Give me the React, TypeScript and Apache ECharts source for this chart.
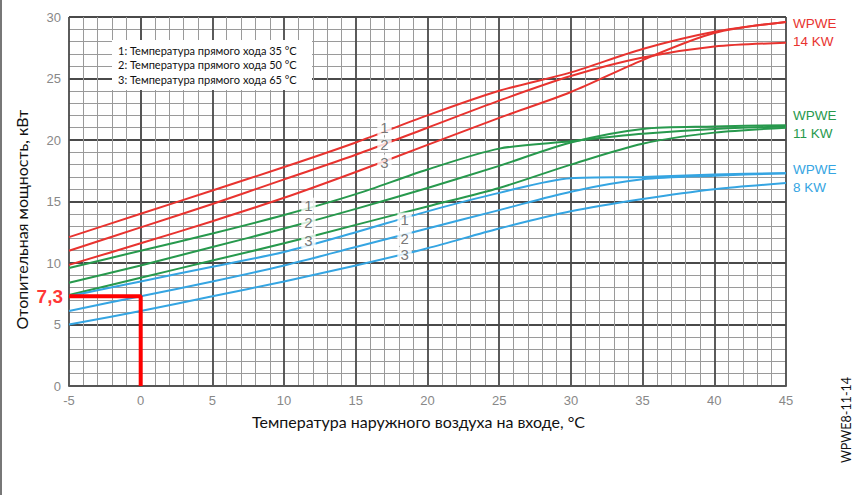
import React, { useEffect, useRef } from "react";
import * as echarts from "echarts";

const temps = [-5, 0, 5, 10, 15, 20, 25, 30, 35, 40, 45];
const red1 = [12.1, 14.0, 15.9, 17.8, 19.8, 22.0, 24.0, 25.5, 27.4, 28.8, 29.6];
const red2 = [11.0, 12.9, 14.8, 16.8, 18.8, 21.0, 23.2, 25.2, 26.7, 27.6, 27.9];
const red3 = [9.85, 11.6, 13.4, 15.3, 17.4, 19.6, 21.8, 23.9, 26.5, 28.7, 29.6];
const green1 = [9.6, 11.0, 12.4, 13.9, 15.6, 17.6, 19.3, 19.9, 20.5, 20.9, 21.1];
const green2 = [8.4, 9.8, 11.3, 12.8, 14.4, 16.1, 17.9, 19.8, 20.9, 21.1, 21.2];
const green3 = [7.4, 8.8, 10.2, 11.6, 13.1, 14.6, 16.1, 18.0, 19.7, 20.6, 21.0];
const blue1 = [7.3, 8.5, 9.7, 10.9, 12.5, 14.2, 15.7, 16.9, 17.0, 17.2, 17.3];
const blue2 = [6.1, 7.3, 8.5, 9.8, 11.3, 12.8, 14.3, 15.8, 16.8, 17.1, 17.3];
const blue3 = [5.0, 6.1, 7.3, 8.5, 9.8, 11.2, 12.8, 14.2, 15.2, 16.0, 16.5];

const markerX = [-5, 0, 0];
const markerY = [7.3, 7.3, 0];
const markerText = "7,3";

const curveLabels = ["1", "2", "3"];
const redLabelX = 17.0;
const redLabelY = [21.0, 19.6, 18.2];
const greenLabelX = 11.7;
const greenLabelY = [14.7, 13.3, 11.8];
const blueLabelX = 18.4;
const blueLabelY = [13.5, 12.0, 10.7];

const legendLines = [
  "1: Температура прямого хода 35 °C",
  "2: Температура прямого хода 50 °C",
  "3: Температура прямого хода 65 °C",
];
const modelNames = ["WPWE\n14 KW", "WPWE\n11 KW", "WPWE\n8 KW"];

const RED = "#e8332f";
const GREEN = "#27994d";
const BLUE = "#35a5e2";

function pairs(ys: number[]) {
  return temps.map((t, i) => [t, ys[i]]);
}

export default function App() {
  const ref = useRef<HTMLDivElement>(null);
  useEffect(() => {
    if (!ref.current) return;
    const chart = echarts.init(ref.current, undefined, { renderer: "svg" });
    const curve = (name: string, ys: number[], color: string) => ({
      name,
      type: "line",
      data: pairs(ys),
      smooth: 0.3,
      symbol: "none",
      lineStyle: { color, width: 2 },
      z: 3,
    });
    const labelSeries = (x: number, ys: number[]) => ({
      type: "scatter",
      symbolSize: 0,
      data: ys.map((y, i) => ({ value: [x, y], label: { formatter: curveLabels[i] } })),
      label: {
        show: true,
        position: "inside",
        color: "#555",
        fontSize: 15,
        fontFamily: "Liberation Sans",
        backgroundColor: "#fff",
        padding: [0, 3],
      },
      z: 5,
    });
    chart.setOption({
      animation: false,
      backgroundColor: "#fff",
      grid: { left: 69, top: 17, right: 73, bottom: 109 },
      xAxis: {
        type: "value",
        min: -5,
        max: 45,
        interval: 5,
        name: "Температура наружного воздуха на входе, °C",
        nameLocation: "middle",
        nameGap: 27,
        nameTextStyle: { color: "#111", fontSize: 16, fontFamily: "Lato", padding: [0, 18, 0, 0] },
        axisLine: { show: true, lineStyle: { color: "#555", width: 2 } },
        axisTick: { show: false },
        axisLabel: { color: "#888", fontSize: 13, fontFamily: "Liberation Sans", margin: 8 },
        splitLine: { show: true, lineStyle: { color: "#4a4a4a", width: 1.8 } },
        minorTick: { show: false, splitNumber: 5 },
        minorSplitLine: { show: true, lineStyle: { color: "#9a9a9a", width: 1 } },
      },
      yAxis: {
        type: "value",
        min: 0,
        max: 30,
        interval: 5,
        name: "Отопительная мощность, кВт",
        nameLocation: "middle",
        nameGap: 40,
        nameTextStyle: { color: "#111", fontSize: 16, fontFamily: "Lato", padding: [0, 36, 0, 0] },
        axisLine: { show: true, lineStyle: { color: "#555", width: 2 } },
        axisTick: { show: false },
        axisLabel: { color: "#888", fontSize: 13, fontFamily: "Liberation Sans", margin: 8 },
        splitLine: { show: true, lineStyle: { color: "#4a4a4a", width: 1.8 } },
        minorTick: { show: false, splitNumber: 5 },
        minorSplitLine: { show: true, lineStyle: { color: "#9a9a9a", width: 1 } },
      },
      series: [
        curve("red1", red1, RED),
        curve("red2", red2, RED),
        curve("red3", red3, RED),
        curve("green1", green1, GREEN),
        curve("green2", green2, GREEN),
        curve("green3", green3, GREEN),
        curve("blue1", blue1, BLUE),
        curve("blue2", blue2, BLUE),
        curve("blue3", blue3, BLUE),
        labelSeries(redLabelX, redLabelY),
        labelSeries(greenLabelX, greenLabelY),
        labelSeries(blueLabelX, blueLabelY),
        {
          type: "line",
          data: markerX.map((x, i) => [x, markerY[i]]),
          symbol: "none",
          lineStyle: { color: "#ff0000", width: 4 },
          z: 6,
        },
        {
          type: "scatter",
          symbolSize: 0,
          data: [[markerX[0], markerY[0]]],
          label: {
            show: true,
            formatter: markerText,
            position: "left",
            distance: 6,
            color: "#ff0000",
            fontSize: 19,
            fontWeight: "bold",
            fontFamily: "Liberation Sans",
          },
          z: 6,
        },
      ],
      graphic: [
        { type: "rect", left: 0, top: 0, shape: { width: 2, height: 495 }, style: { fill: "#777" } },
        {
          type: "rect",
          left: 112,
          top: 40,
          shape: { width: 200, height: 50 },
          style: { fill: "#fff" },
          z: 10,
        },
        {
          type: "text",
          left: 118,
          top: 43,
          z: 11,
          style: {
            text: legendLines.join("\n"),
            fill: "#111",
            fontSize: 11,
            lineHeight: 14.5,
            fontFamily: "Lato",
          },
        },
        {
          type: "text",
          left: 793,
          top: 14,
          style: { text: modelNames[0], fill: RED, fontSize: 13.5, lineHeight: 18, fontFamily: "Liberation Sans" },
        },
        {
          type: "text",
          left: 793,
          top: 106,
          style: { text: modelNames[1], fill: GREEN, fontSize: 13.5, lineHeight: 18, fontFamily: "Liberation Sans" },
        },
        {
          type: "text",
          left: 793,
          top: 160,
          style: { text: modelNames[2], fill: BLUE, fontSize: 13.5, lineHeight: 18, fontFamily: "Liberation Sans" },
        },
        {
          type: "text",
          x: 846,
          y: 420,
          rotation: Math.PI / 2,
          style: {
            text: "WPWE8-11-14",
            fill: "#111",
            fontSize: 12.5,
            fontFamily: "Lato",
            align: "center",
            verticalAlign: "middle",
          },
        },
      ],
    });
    return () => chart.dispose();
  }, []);
  return (
    <div
      ref={ref}
      style={{ position: "fixed", left: 0, top: 0, width: 859, height: 495 }}
    />
  );
}
